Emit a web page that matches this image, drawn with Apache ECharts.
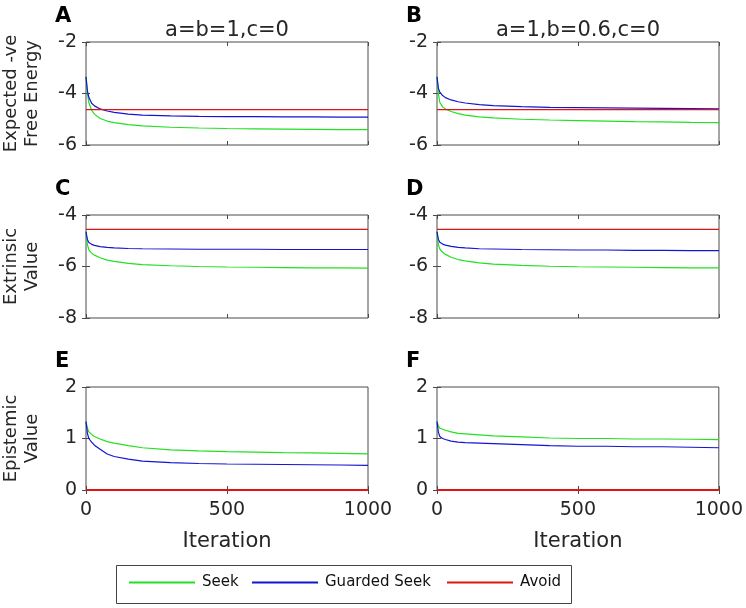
<!DOCTYPE html>
<html><head><meta charset="utf-8">
<script src="https://cdn.jsdelivr.net/npm/echarts@6/dist/echarts.min.js"></script>
<style>html,body{margin:0;padding:0;background:#fff}#c{width:746px;height:608px}</style>
</head><body><div id="c"></div>
<script>
// ---------- data ----------
const iterations = [0, 5, 10, 20, 30, 50, 75, 100, 150, 200, 300, 400, 500, 600, 700, 800, 900, 1000];
const xTickLabels = [0, 500, 1000];
const seriesNames = ['Seek', 'Guarded Seek', 'Avoid'];
const panelLetters = ['A', 'B', 'C', 'D', 'E', 'F'];
const columnTitles = ['a=b=1,c=0', 'a=1,b=0.6,c=0'];
const rowLabels = ['Expected -ve\nFree Energy', 'Extrinsic\nValue', 'Epistemic\nValue'];
const yTicksFreeEnergy = [-6, -4, -2];
const yTicksExtrinsic = [-8, -6, -4];
const yTicksEpistemic = [0, 1, 2];

// Panel A
const seekA    = [-3.35, -4.0, -4.35, -4.65, -4.8, -4.97, -5.07, -5.13, -5.21, -5.26, -5.31, -5.34, -5.36, -5.37, -5.38, -5.39, -5.4, -5.4];
const guardedA = [-3.35, -3.9, -4.15, -4.38, -4.48, -4.6, -4.68, -4.73, -4.8, -4.84, -4.87, -4.89, -4.9, -4.9, -4.91, -4.91, -4.92, -4.92];
const avoidA   = [-4.63, -4.63, -4.63, -4.63, -4.63, -4.63, -4.63, -4.63, -4.63, -4.63, -4.63, -4.63, -4.63, -4.63, -4.63, -4.63, -4.63, -4.63];
// Panel B
const seekB    = [-3.35, -4.0, -4.35, -4.52, -4.6, -4.7, -4.78, -4.84, -4.91, -4.95, -5.0, -5.03, -5.05, -5.07, -5.09, -5.1, -5.12, -5.13];
const guardedB = [-3.35, -3.8, -3.95, -4.08, -4.16, -4.25, -4.32, -4.37, -4.43, -4.47, -4.51, -4.54, -4.55, -4.56, -4.57, -4.58, -4.59, -4.6];
const avoidB   = [-4.63, -4.63, -4.63, -4.63, -4.63, -4.63, -4.63, -4.63, -4.63, -4.63, -4.63, -4.63, -4.63, -4.63, -4.63, -4.63, -4.63, -4.63];
// Panel C
const seekC    = [-4.65, -5.15, -5.35, -5.48, -5.56, -5.66, -5.75, -5.8, -5.88, -5.93, -5.97, -6.0, -6.02, -6.03, -6.04, -6.05, -6.05, -6.06];
const guardedC = [-4.65, -4.95, -5.07, -5.14, -5.18, -5.23, -5.26, -5.28, -5.3, -5.31, -5.32, -5.33, -5.33, -5.33, -5.34, -5.34, -5.34, -5.34];
const avoidC   = [-4.56, -4.56, -4.56, -4.56, -4.56, -4.56, -4.56, -4.56, -4.56, -4.56, -4.56, -4.56, -4.56, -4.56, -4.56, -4.56, -4.56, -4.56];
// Panel D
const seekD    = [-4.65, -5.15, -5.32, -5.45, -5.53, -5.64, -5.73, -5.78, -5.86, -5.91, -5.96, -5.99, -6.01, -6.02, -6.03, -6.04, -6.05, -6.05];
const guardedD = [-4.65, -4.95, -5.06, -5.13, -5.17, -5.22, -5.26, -5.28, -5.31, -5.32, -5.34, -5.35, -5.36, -5.36, -5.37, -5.37, -5.38, -5.38];
const avoidD   = [-4.56, -4.56, -4.56, -4.56, -4.56, -4.56, -4.56, -4.56, -4.56, -4.56, -4.56, -4.56, -4.56, -4.56, -4.56, -4.56, -4.56, -4.56];
// Panel E
const seekE    = [1.33, 1.2, 1.13, 1.08, 1.04, 0.99, 0.94, 0.91, 0.86, 0.82, 0.78, 0.76, 0.745, 0.735, 0.725, 0.72, 0.71, 0.70];
const guardedE = [1.33, 1.1, 1.0, 0.93, 0.87, 0.79, 0.7, 0.65, 0.6, 0.56, 0.53, 0.515, 0.505, 0.5, 0.495, 0.49, 0.485, 0.48];
const avoidE   = [0, 0, 0, 0, 0, 0, 0, 0, 0, 0, 0, 0, 0, 0, 0, 0, 0, 0];
// Panel F
const seekF    = [1.33, 1.24, 1.2, 1.18, 1.16, 1.13, 1.1, 1.09, 1.07, 1.05, 1.03, 1.01, 1.0, 1.0, 0.99, 0.99, 0.985, 0.98];
const guardedF = [1.33, 1.12, 1.04, 1.0, 0.98, 0.95, 0.93, 0.92, 0.91, 0.9, 0.88, 0.86, 0.85, 0.85, 0.84, 0.84, 0.83, 0.82];
const avoidF   = [0, 0, 0, 0, 0, 0, 0, 0, 0, 0, 0, 0, 0, 0, 0, 0, 0, 0];

// ---------- build ----------
const panelData = [
  [seekA, guardedA, avoidA], [seekB, guardedB, avoidB],
  [seekC, guardedC, avoidC], [seekD, guardedD, avoidD],
  [seekE, guardedE, avoidE], [seekF, guardedF, avoidF]
];
const rowTicks = [yTicksFreeEnergy, yTicksExtrinsic, yTicksEpistemic];
const colors = ['#22e022', '#1414d2', '#e01414'];
const FONT = 'DejaVu Sans';
const TXT = '#262626';
const AX = '#4a4a4a';
const colLeft = [86, 437];
const rowTop = [42, 215, 387];
const GW = 282, GH = 103;

const grid = [], xAxis = [], yAxis = [], series = [], title = [];
for (let p = 0; p < 6; p++) {
  const r = Math.floor(p / 2), c = p % 2;
  grid.push({ left: colLeft[c], top: rowTop[r], width: GW, height: GH, show: true,
    borderColor: AX, borderWidth: 1, backgroundColor: 'transparent' });
  const ticks = rowTicks[r];
  const yMin = ticks[0], yMax = ticks[ticks.length - 1], yInt = ticks[1] - ticks[0];
  const xMin = xTickLabels[0], xMax = xTickLabels[xTickLabels.length - 1], xInt = xTickLabels[1] - xTickLabels[0];
  const bottomRow = r === 2;
  xAxis.push({ type: 'value', gridIndex: p, min: xMin, max: xMax, interval: xInt, position: 'bottom',
    axisLine: { show: false }, splitLine: { show: false },
    axisTick: { inside: true, length: 4, lineStyle: { color: AX } },
    axisLabel: { show: bottomRow, margin: 11, fontSize: 19, fontFamily: FONT, color: TXT,
      formatter: v => String(v) },
    name: bottomRow ? 'Iteration' : '', nameLocation: 'middle', nameGap: 41,
    nameTextStyle: { fontSize: 21, fontFamily: FONT, color: TXT } });
  xAxis.push({ type: 'value', gridIndex: p, min: xMin, max: xMax, interval: xInt, position: 'top',
    axisLine: { show: false }, splitLine: { show: false },
    axisTick: { inside: true, length: 4, lineStyle: { color: AX } }, axisLabel: { show: false } });
  yAxis.push({ type: 'value', gridIndex: p, min: yMin, max: yMax, interval: yInt, position: 'left',
    axisLine: { show: false }, splitLine: { show: false },
    axisTick: { inside: true, length: 4, lineStyle: { color: AX } },
    axisLabel: { margin: 9, fontSize: 19, fontFamily: FONT, color: TXT, formatter: v => String(v) },
    name: c === 0 ? rowLabels[r] : '', nameLocation: 'middle', nameGap: 43, nameRotate: 90,
    nameTextStyle: { fontSize: 18, fontFamily: FONT, color: TXT, lineHeight: 21 } });
  yAxis.push({ type: 'value', gridIndex: p, min: yMin, max: yMax, interval: yInt, position: 'right',
    axisLine: { show: false }, splitLine: { show: false },
    axisTick: { inside: true, length: 4, lineStyle: { color: AX } }, axisLabel: { show: false } });

  panelData[p].forEach((vals, k) => {
    series.push({ type: 'line', name: seriesNames[k], xAxisIndex: p * 2, yAxisIndex: p * 2,
      data: iterations.map((it, i) => [it, vals[i]]), showSymbol: false, symbol: 'none',
      clip: false, lineStyle: { width: k === 2 && r === 2 ? 1.8 : 1.2, color: colors[k] },
      itemStyle: { color: colors[k] }, animation: false, z: 2 + k });
  });

  title.push({ text: panelLetters[p], left: colLeft[c] - 31, top: rowTop[r] - 36, padding: 0,
    textStyle: { fontSize: 21, fontWeight: 'bold', fontFamily: FONT, color: '#000' } });
}
columnTitles.forEach((t, c) => {
  title.push({ text: t, left: colLeft[c] + GW / 2, textAlign: 'center', top: 20, padding: 0,
    textStyle: { fontSize: 21, fontWeight: 'normal', fontFamily: FONT, color: TXT } });
});

const legendLefts = [129, 252, 447];
const legend = seriesNames.map((n, k) => ({
  data: [n], left: legendLefts[k], top: 575, padding: 0, itemWidth: 66, itemHeight: 2,
  icon: 'rect', itemGap: 0, selectedMode: false,
  textStyle: { fontSize: 15, fontFamily: FONT, color: '#111', padding: [0, 0, 0, 2] }
}));

const chart = echarts.init(document.getElementById('c'), null, { renderer: 'canvas' });
chart.setOption({
  animation: false,
  backgroundColor: '#fff',
  title, grid, xAxis, yAxis, series, legend,
  graphic: [{ type: 'rect', left: 116, top: 565, shape: { width: 455, height: 38 },
    style: { fill: 'transparent', stroke: '#444', lineWidth: 1 }, z: 0 }]
});
</script>
</body></html>
